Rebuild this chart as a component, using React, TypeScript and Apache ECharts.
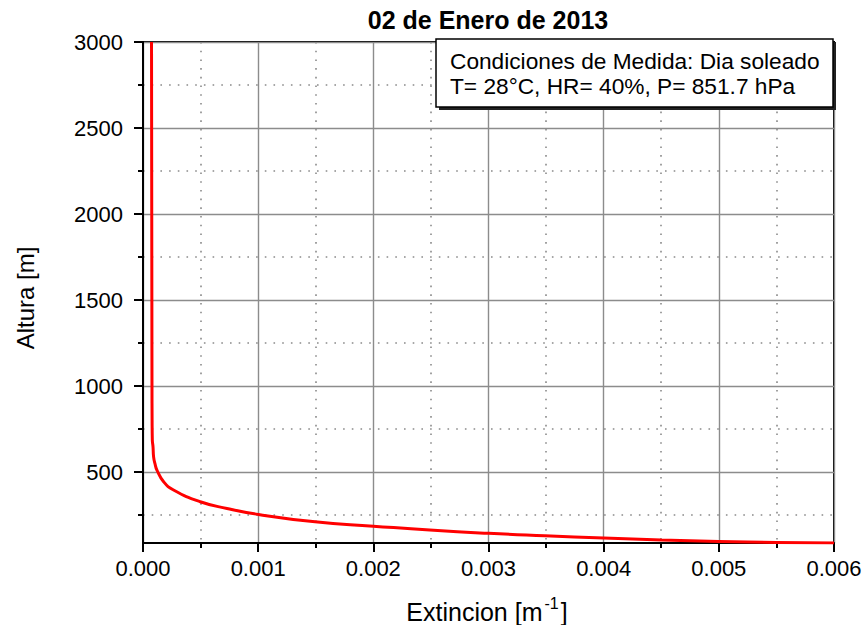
import React, { useEffect, useRef } from "react";
import * as echarts from "echarts";

// Extinction profile: altitude (m) and extinction coefficient (1/m)
const altitude = [
  3000, 2500, 2000, 1500, 1000, 800, 686, 647, 589, 541, 512, 444, 396, 328,
  289, 254, 211, 186, 163, 144, 130, 117, 105, 97, 91, 88,
];
const extinction = [
  0.000074, 0.000075, 0.000076, 0.000077, 0.000078, 0.000079, 0.000081,
  0.000087, 0.000092, 0.000107, 0.000121, 0.000179, 0.000265, 0.000497,
  0.000729, 0.001003, 0.001494, 0.002, 0.00249, 0.003, 0.00349, 0.004, 0.0045,
  0.005, 0.0055, 0.006,
];

const yMin = 88;
const yMax = 3000;
const yMajorTicks = [500, 1000, 1500, 2000, 2500, 3000];
const yMinorTicks = [250, 750, 1250, 1750, 2250, 2750];
const xMin = 0;
const xMax = 0.006;
const xStep = 0.001;

const chartTitle = "02 de Enero de 2013";
const conditionLines = [
  "Condiciones de Medida: Dia soleado",
  "T= 28°C, HR= 40%, P= 851.7 hPa",
];
const yName = "Altura [m]";

const FONT = "'Liberation Sans', Arial, Helvetica, sans-serif";

export default function App() {
  const ref = useRef<HTMLDivElement>(null);

  useEffect(() => {
    if (!ref.current) return;
    const chart = echarts.init(ref.current, null, { renderer: "svg" });

    const data = altitude.map((h, i) => [extinction[i], h]);

    const majorGrid = { show: true, lineStyle: { color: "#8c8c8c", width: 1.4, type: "solid" as const } };
    const minorGrid = {
      show: true,
      lineStyle: { color: "#8a8a8a", width: 1.6, type: [1.6, 7.1] as any },
    };

    chart.setOption({
      animation: false,
      backgroundColor: "#ffffff",
      grid: {
        left: 143,
        right: 30,
        top: 42,
        bottom: 82,
        show: true,
        borderColor: "#000",
        borderWidth: 2,
        backgroundColor: "transparent",
        containLabel: false,
        outerBoundsMode: "none",
      },
      xAxis: {
        type: "value",
        min: xMin,
        max: xMax,
        interval: xStep,
        axisLine: { show: true, lineStyle: { color: "#000", width: 2 } },
        axisTick: { show: true, length: 9, lineStyle: { color: "#000", width: 2 } },
        minorTick: { show: true, splitNumber: 2, length: 5, lineStyle: { color: "#000", width: 2 } },
        splitLine: majorGrid,
        minorSplitLine: minorGrid,
        axisLabel: {
          margin: 14,
          color: "#000",
          fontSize: 22,
          fontFamily: FONT,
          formatter: (v: number) => v.toFixed(3),
        },
      },
      yAxis: [
        {
          type: "value",
          position: "left",
          min: yMin,
          max: yMax,
          axisLine: { show: true, lineStyle: { color: "#000", width: 2 } },
          axisTick: {
            show: true,
            length: 9,
            customValues: yMajorTicks,
            lineStyle: { color: "#000", width: 2 },
          },
          axisLabel: {
            margin: 20,
            color: "#000",
            fontSize: 22,
            fontFamily: FONT,
            customValues: yMajorTicks,
            formatter: (v: number) => String(Math.round(v)),
          },
          splitLine: majorGrid,
        },
        {
          type: "value",
          position: "left",
          offset: 0,
          min: yMin,
          max: yMax,
          axisLine: { show: true, lineStyle: { color: "#000", width: 2 } },
          axisTick: {
            show: true,
            length: 5,
            customValues: yMinorTicks,
            lineStyle: { color: "#000", width: 2 },
          },
          axisLabel: { show: false, customValues: yMinorTicks },
          splitLine: minorGrid,
        },
      ],
      series: [
        {
          type: "line",
          xAxisIndex: 0,
          yAxisIndex: 0,
          data,
          showSymbol: false,
          smooth: 0.5,
          lineStyle: { color: "#ff0000", width: 3 },
          z: 5,
        },
      ],
      graphic: [
        {
          type: "text",
          x: 488,
          y: 20,
          style: {
            text: chartTitle,
            fill: "#000",
            font: `bold 25px ${FONT}`,
            textAlign: "center",
            textVerticalAlign: "middle",
          },
        },
        {
          type: "rect",
          shape: { x: 439, y: 42, width: 397, height: 68 },
          style: { fill: "#222", stroke: "none" },
          z: 20,
        },
        {
          type: "rect",
          shape: { x: 436, y: 39, width: 397, height: 68 },
          style: { fill: "#fff", stroke: "#000", lineWidth: 1.5 },
          z: 21,
        },
        {
          type: "text",
          x: 450,
          y: 61,
          z: 22,
          style: {
            text: conditionLines[0],
            fill: "#000",
            font: `22.7px ${FONT}`,
            textVerticalAlign: "middle",
          },
        },
        {
          type: "text",
          x: 450,
          y: 86,
          z: 22,
          style: {
            text: conditionLines[1],
            fill: "#000",
            font: `22.7px ${FONT}`,
            textVerticalAlign: "middle",
          },
        },
        {
          type: "text",
          x: 25,
          y: 298,
          rotation: Math.PI / 2,
          style: {
            text: yName,
            fill: "#000",
            font: `24px ${FONT}`,
            textAlign: "center",
            textVerticalAlign: "middle",
          },
        },
        {
          type: "text",
          x: 487,
          y: 609,
          style: {
            text: "{a|Extincion [m}{s|-1}{a|]}",
            fill: "#000",
            textAlign: "center",
            textVerticalAlign: "middle",
            rich: {
              a: { fontSize: 25, fontFamily: FONT, fill: "#000", lineHeight: 30, verticalAlign: "bottom" },
              s: { fontSize: 16, fontFamily: FONT, fill: "#000", lineHeight: 30, verticalAlign: "top", padding: [1, 2, 0, 2] },
            },
          },
        },
      ],
    });

    return () => chart.dispose();
  }, []);

  return (
    <div
      ref={ref}
      style={{ position: "fixed", left: 0, top: 0, width: 864, height: 625, background: "#fff" }}
    />
  );
}
